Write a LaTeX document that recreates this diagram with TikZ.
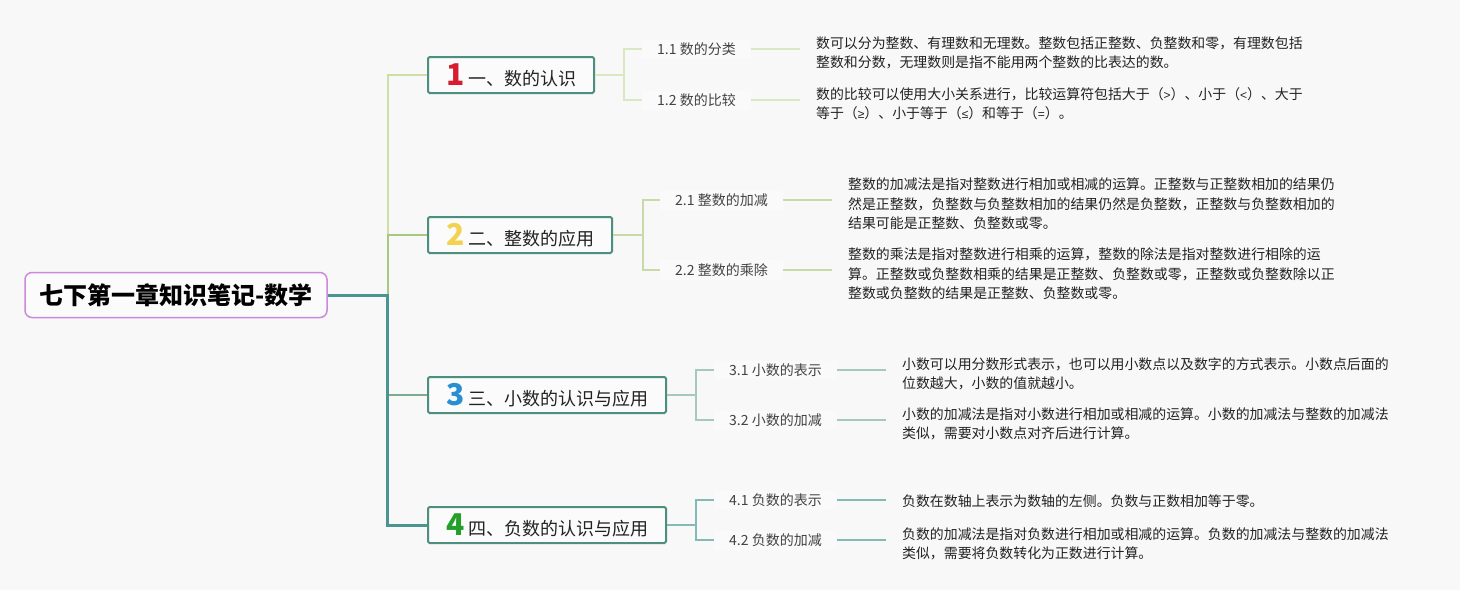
\documentclass[tikz,border=0pt]{standalone}
\usepackage{fontspec}
\setmainfont{Noto Sans CJK SC}
\newfontfamily\relfont{Liberation Sans}
\usepackage{xcolor}
\usepackage{tikz}
\usetikzlibrary{positioning}
\definecolor{mmbg}{RGB}{248,248,248}
\definecolor{mmtext}{RGB}{34,34,34}
\definecolor{mmteal}{RGB}{74,148,146}
\definecolor{mmbox}{RGB}{78,142,126}
\definecolor{mmpurple}{RGB}{204,136,221}
\definecolor{mmbrone}{RGB}{204,224,166}
\definecolor{mmbrtwo}{RGB}{168,198,132}
\definecolor{mmbrthree}{RGB}{122,172,144}
\definecolor{mmsubone}{RGB}{216,232,192}
\definecolor{mmsubtwo}{RGB}{200,218,168}
\definecolor{mmsubthree}{RGB}{166,202,186}
\definecolor{mmsubfour}{RGB}{132,186,182}
\definecolor{mmred}{RGB}{214,30,48}
\definecolor{mmyellow}{RGB}{242,210,80}
\definecolor{mmblue}{RGB}{40,144,210}
\definecolor{mmgreen}{RGB}{34,160,42}
\newcommand{\bnum}[2]{\makebox[22pt][l]{\color{#1}\fontsize{30}{30}\selectfont\bfseries #2}}
\newcommand{\rel}[1]{{\relfont\fontsize{12}{12}\selectfont #1}}

\begin{document}
\begin{tikzpicture}[
  x=1pt, y=-1pt,
  rootbox/.style={draw=mmpurple, line width=1.5pt, rounded corners=7pt, fill=white!40!mmbg,
    minimum width=302pt, minimum height=45pt, font=\fontsize{24}{24}\selectfont\bfseries},
  topic/.style={draw=mmbox, line width=2pt, rounded corners=1.5pt, fill=white!50!mmbg, anchor=west,
    minimum height=36pt, inner xsep=18pt, inner ysep=0pt, text=mmtext, font=\fontsize{18}{18}\selectfont},
  sub/.style={anchor=west, inner xsep=15pt, inner ysep=3pt, fill=white!30!mmbg, text=mmtext!85,
    font=\fontsize{14}{14}\selectfont},
  note/.style={align=left, inner xsep=16pt, inner ysep=0pt, text=mmtext, yshift=-4pt,
    font=\fontsize{13.9}{19.3}\selectfont},
  br/.style={line width=2pt},
  sl/.style={line width=1.6pt}
]
\fill[mmbg] (0,0) rectangle (1460,590);
\useasboundingbox (0,0) rectangle (1460,590);

\node[rootbox] (root) at (176,295) {七下第一章知识笔记-数学};

\node[topic] (b1) at (427,75) {\bnum{mmred}{1}一、数的认识};
\node[topic] (b2) at (427,235) {\bnum{mmyellow}{2}二、整数的应用};
\node[topic] (b3) at (427,395) {\bnum{mmblue}{3}三、小数的认识与应用};
\node[topic] (b4) at (427,525) {\bnum{mmgreen}{4}四、负数的认识与应用};

% branches from the root
\draw[br, mmbrone] (root.east) -- ++(60,0) |- (b1.west);
\draw[br, mmbrtwo] (root.east) -- ++(60,0) |- (b2.west);
\draw[br, mmbrthree] (root.east) -- ++(60,0) |- (b3.west);
\draw[br, mmteal, line width=3pt] (root.east) -- ++(60,0) |- (b4.west);

% subtopics
\node[sub] (l11) at (642,49) {1.1 数的分类};
\node[sub] (l12) at (642,100) {1.2 数的比较};
\node[sub] (l21) at (660,200) {2.1 整数的加减};
\node[sub] (l22) at (660,270) {2.2 整数的乘除};
\node[sub] (l31) at (714,370) {3.1 小数的表示};
\node[sub] (l32) at (714,420) {3.2 小数的加减};
\node[sub] (l41) at (714,500) {4.1 负数的表示};
\node[sub] (l42) at (714,540) {4.2 负数的加减};

\node[note, right=49pt of l11] (t11) {数可以分为整数、有理数和无理数。整数包括正整数、负整数和零，有理数包括\\整数和分数，无理数则是指不能用两个整数的比表达的数。};
\node[note, right=49pt of l12] (t12) {数的比较可以使用大小关系进行，比较运算符包括大于（\rel{>}）、小于（\rel{<}）、大于\\等于（\rel{≥}）、小于等于（\rel{≤}）和等于（\rel{=}）。};
\node[note, right=49pt of l21] (t21) {整数的加减法是指对整数进行相加或相减的运算。正整数与正整数相加的结果仍\\然是正整数，负整数与负整数相加的结果仍然是负整数，正整数与负整数相加的\\结果可能是正整数、负整数或零。};
\node[note, right=49pt of l22] (t22) {整数的乘法是指对整数进行相乘的运算，整数的除法是指对整数进行相除的运\\算。正整数或负整数相乘的结果是正整数、负整数或零，正整数或负整数除以正\\整数或负整数的结果是正整数、负整数或零。};
\node[note, right=49pt of l31] (t31) {小数可以用分数形式表示，也可以用小数点以及数字的方式表示。小数点后面的\\位数越大，小数的值就越小。};
\node[note, right=49pt of l32] (t32) {小数的加减法是指对小数进行相加或相减的运算。小数的加减法与整数的加减法\\类似，需要对小数点对齐后进行计算。};
\node[note, right=49pt of l41, yshift=3pt] (t41) {负数在数轴上表示为数轴的左侧。负数与正数相加等于零。};
\node[note, right=49pt of l42] (t42) {负数的加减法是指对负数进行相加或相减的运算。负数的加减法与整数的加减法\\类似，需要将负数转化为正数进行计算。};

\draw[sl, mmsubone] (b1.east) -- ++(29,0) |- (l11.west);
\draw[sl, mmsubone] (b1.east) -- ++(29,0) |- (l12.west);
\draw[sl, mmsubtwo] (b2.east) -- ++(30,0) |- (l21.west);
\draw[sl, mmsubtwo] (b2.east) -- ++(30,0) |- (l22.west);
\draw[sl, mmsubthree] (b3.east) -- ++(29,0) |- (l31.west);
\draw[sl, mmsubthree] (b3.east) -- ++(29,0) |- (l32.west);
\draw[sl, mmsubfour] (b4.east) -- ++(29,0) |- (l41.west);
\draw[sl, mmsubfour] (b4.east) -- ++(29,0) |- (l42.west);

\draw[sl, mmsubone] (l11.east) -- (l11.east -| t11.west);
\draw[sl, mmsubone] (l12.east) -- (l12.east -| t12.west);
\draw[sl, mmsubtwo] (l21.east) -- (l21.east -| t21.west);
\draw[sl, mmsubtwo] (l22.east) -- (l22.east -| t22.west);
\draw[sl, mmsubthree] (l31.east) -- (l31.east -| t31.west);
\draw[sl, mmsubthree] (l32.east) -- (l32.east -| t32.west);
\draw[sl, mmsubfour] (l41.east) -- (l41.east -| t41.west);
\draw[sl, mmsubfour] (l42.east) -- (l42.east -| t42.west);
\end{tikzpicture}
\end{document}
